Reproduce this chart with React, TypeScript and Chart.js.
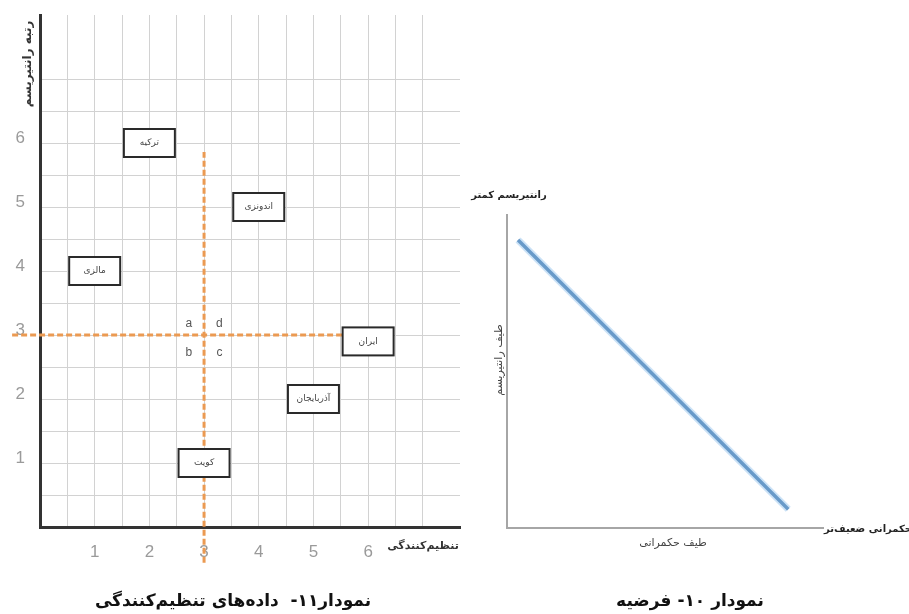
import React, { useEffect, useRef } from 'react';
import { Chart, registerables } from 'chart.js';

Chart.register(...registerables);

// ---------- Left chart (نمودار ۱۱) data ----------
const gridValuesX = [0, 0.5, 1, 1.5, 2, 2.5, 3, 3.5, 4, 4.5, 5, 5.5, 6, 6.5, 7];
const gridValuesY = [0, 0.5, 1, 1.5, 2, 2.5, 3, 3.5, 4, 4.5, 5, 5.5, 6, 6.5, 7];
const labelledTicksX = [1, 2, 3, 4, 5, 6];
const labelledTicksY = [1, 2, 3, 4, 5, 6];

const countryNames = ['ترکیه', 'اندونزی', 'مالزی', 'ایران', 'آذربایجان', 'کویت'];
const countryX = [2, 4, 1, 6, 5, 3];
const countryY = [6, 5, 4, 2.9, 2, 1];

const quadrantLetters = ['a', 'd', 'b', 'c'];
const quadrantX = [2.72, 3.28, 2.72, 3.28];
const quadrantY = [3.18, 3.18, 2.72, 2.72];

const splitVerticalX = [3, 3];
const splitVerticalY = [-0.56, 5.86];
const splitHorizontalX = [-0.51, 5.54];
const splitHorizontalY = [3, 3];

const leftTitle = 'نمودار۱۱-  داده‌های تنظیم‌کنندگی';
const leftXAxisTitle = 'تنظیم‌کنندگی';
const leftYAxisTitle = 'رتبه رانتیریسم';

// ---------- Right chart (نمودار ۱۰) data ----------
const hypothesisX = [0.35, 8.9];
const hypothesisY = [9.2, 0.6];

const rightTitle = 'نمودار ۱۰- فرضیه';
const rightXAxisTitle = 'طیف حکمرانی';
const rightYAxisTitle = 'طیف رانتیریسم';
const rightYEndLabel = 'رانتیریسم کمتر';
const rightXEndLabel = 'حکمرانی ضعیف‌تر';

const FA = '"DejaVu Sans", "Noto Sans", sans-serif';
const RIGHT_LEFT = 462;

const toPoints = (xs: number[], ys: number[]) => xs.map((v, i) => ({ x: v, y: ys[i] }));

const fixedTicks = (values: number[]) => (scale: any) => {
  scale.ticks = values.map((v) => ({ value: v }));
};

const leftAnnotations = {
  id: 'leftAnnotations',
  afterDatasetsDraw(chart: any) {
    const { ctx, scales } = chart;
    const x = scales.x;
    const y = scales.y;
    ctx.save();
    // quadrant letters
    ctx.fillStyle = '#555';
    ctx.font = '12px "Liberation Sans", sans-serif';
    ctx.textAlign = 'center';
    ctx.textBaseline = 'middle';
    quadrantLetters.forEach((l, i) => {
      ctx.fillText(l, x.getPixelForValue(quadrantX[i]), y.getPixelForValue(quadrantY[i]));
    });
    // country boxes
    countryNames.forEach((name, i) => {
      const px = x.getPixelForValue(countryX[i]);
      const py = y.getPixelForValue(countryY[i]);
      const w = 51;
      const h = 28;
      ctx.fillStyle = '#ffffff';
      ctx.fillRect(px - w / 2, py - h / 2, w, h);
      ctx.strokeStyle = '#2a2a2a';
      ctx.lineWidth = 2;
      ctx.strokeRect(px - w / 2, py - h / 2, w, h);
      ctx.fillStyle = '#444';
      ctx.font = '9px ' + FA;
      ctx.direction = 'rtl';
      ctx.textAlign = 'center';
      ctx.textBaseline = 'middle';
      ctx.fillText(name, px, py);
    });
    ctx.restore();
  },
  afterDraw(chart: any) {
    const { ctx } = chart;
    ctx.save();
    ctx.direction = 'rtl';
    ctx.fillStyle = '#333';
    // x-axis title
    ctx.font = 'bold 11px ' + FA;
    ctx.textAlign = 'center';
    ctx.textBaseline = 'middle';
    ctx.fillText(leftXAxisTitle, 423, 546);
    // y-axis title (rotated)
    ctx.save();
    ctx.translate(28, 64);
    ctx.rotate(-Math.PI / 2);
    ctx.font = 'bold 12px ' + FA;
    ctx.fillText(leftYAxisTitle, 0, 0);
    ctx.restore();
    // chart caption
    ctx.fillStyle = '#111';
    ctx.font = 'bold 17px ' + FA;
    ctx.fillText(leftTitle, 233, 602);
    ctx.restore();
  },
};

const rightAnnotations = {
  id: 'rightAnnotations',
  afterDraw(chart: any) {
    const { ctx } = chart;
    const ox = RIGHT_LEFT;
    ctx.save();
    ctx.direction = 'rtl';
    ctx.textBaseline = 'middle';
    ctx.fillStyle = '#222';
    ctx.font = 'bold 10px ' + FA;
    ctx.textAlign = 'center';
    ctx.fillText(rightYEndLabel, 509 - ox, 195);
    ctx.fillText(rightXEndLabel, 868 - ox, 529);
    ctx.fillStyle = '#444';
    ctx.font = '11px ' + FA;
    ctx.fillText(rightXAxisTitle, 673 - ox, 543);
    ctx.save();
    ctx.translate(499 - ox, 360);
    ctx.rotate(-Math.PI / 2);
    ctx.fillText(rightYAxisTitle, 0, 0);
    ctx.restore();
    ctx.fillStyle = '#111';
    ctx.font = 'bold 17px ' + FA;
    ctx.fillText(rightTitle, 690 - ox, 602);
    ctx.restore();
  },
};

export default function App() {
  const leftRef = useRef<HTMLCanvasElement>(null);
  const rightRef = useRef<HTMLCanvasElement>(null);

  useEffect(() => {
    const tickFont = { family: '"Liberation Sans", sans-serif', size: 17 };
    const labelFor = (labelled: number[]) => (v: any) =>
      labelled.includes(Number(v)) ? String(v) : '';

    const left = new Chart(leftRef.current as HTMLCanvasElement, {
      type: 'scatter',
      data: {
        datasets: [
          {
            label: 'split-v',
            data: toPoints(splitVerticalX, splitVerticalY),
            showLine: true,
            borderColor: '#eb9a52',
            borderWidth: 3,
            borderDash: [6, 3],
            pointRadius: 0,
            clip: false as any,
          },
          {
            label: 'split-h',
            data: toPoints(splitHorizontalX, splitHorizontalY),
            showLine: true,
            borderColor: '#eb9a52',
            borderWidth: 3,
            borderDash: [6, 3],
            pointRadius: 0,
            clip: false as any,
          },
          {
            label: 'countries',
            data: toPoints(countryX, countryY),
            pointRadius: 0,
            showLine: false,
          },
        ],
      },
      options: {
        responsive: false,
        animation: false,
        layout: { padding: { top: 15, right: 20, left: 0, bottom: 0 } },
        plugins: { legend: { display: false }, tooltip: { enabled: false }, title: { display: false } },
        scales: {
          x: {
            type: 'linear',
            min: 0,
            max: 7.68,
            afterBuildTicks: fixedTicks(gridValuesX),
            afterFit: (s: any) => { s.height = 87; s.paddingLeft = 0; s.paddingRight = 0; },
            grid: { color: '#d2d2d2', lineWidth: 1, drawTicks: false },
            border: { display: true, color: '#333', width: 3 },
            ticks: {
              autoSkip: false,
              maxRotation: 0,
              padding: 15,
              color: '#9a9a9a',
              font: tickFont,
              callback: labelFor(labelledTicksX),
            },
          },
          y: {
            type: 'linear',
            min: 0,
            max: 8,
            afterBuildTicks: fixedTicks(gridValuesY),
            afterFit: (s: any) => { s.width = 40; s.paddingTop = 0; s.paddingBottom = 0; },
            grid: { color: '#d2d2d2', lineWidth: 1, drawTicks: false },
            border: { display: true, color: '#333', width: 3 },
            ticks: {
              autoSkip: false,
              padding: 15,
              labelOffset: -5,
              color: '#9a9a9a',
              font: tickFont,
              callback: labelFor(labelledTicksY),
            },
          },
        },
      } as any,
      plugins: [leftAnnotations],
    });

    const right = new Chart(rightRef.current as HTMLCanvasElement, {
      type: 'scatter',
      data: {
        datasets: [
          {
            label: 'halo',
            data: toPoints(hypothesisX, hypothesisY),
            showLine: true,
            borderColor: 'rgba(140,190,235,0.45)',
            borderWidth: 7,
            pointRadius: 0,
          },
          {
            label: 'hypothesis',
            data: toPoints(hypothesisX, hypothesisY),
            showLine: true,
            borderColor: '#4c7cae',
            borderWidth: 3.5,
            pointRadius: 0,
          },
        ],
      },
      options: {
        responsive: false,
        animation: false,
        layout: { padding: { top: 215, right: 86, left: 0, bottom: 0 } },
        plugins: { legend: { display: false }, tooltip: { enabled: false }, title: { display: false } },
        scales: {
          x: {
            type: 'linear',
            min: 0,
            max: 10,
            afterFit: (s: any) => { s.height = 86; s.paddingLeft = 0; s.paddingRight = 0; },
            grid: { display: false, drawTicks: false },
            border: { display: true, color: '#a6a6a6', width: 2 },
            ticks: { display: false },
          },
          y: {
            type: 'linear',
            min: 0,
            max: 10,
            afterFit: (s: any) => { s.width = 507 - RIGHT_LEFT; s.paddingTop = 0; s.paddingBottom = 0; },
            grid: { display: false, drawTicks: false },
            border: { display: true, color: '#a6a6a6', width: 2 },
            ticks: { display: false },
          },
        },
      } as any,
      plugins: [rightAnnotations],
    });

    return () => {
      left.destroy();
      right.destroy();
    };
  }, []);

  return (
    <div style={{ position: 'absolute', left: 0, top: 0, width: 909, height: 614, background: '#fff' }}>
      <canvas ref={leftRef} width={480} height={614} style={{ position: 'absolute', left: 0, top: 0 }} />
      <canvas
        ref={rightRef}
        width={909 - RIGHT_LEFT}
        height={614}
        style={{ position: 'absolute', left: RIGHT_LEFT, top: 0 }}
      />
    </div>
  );
}
